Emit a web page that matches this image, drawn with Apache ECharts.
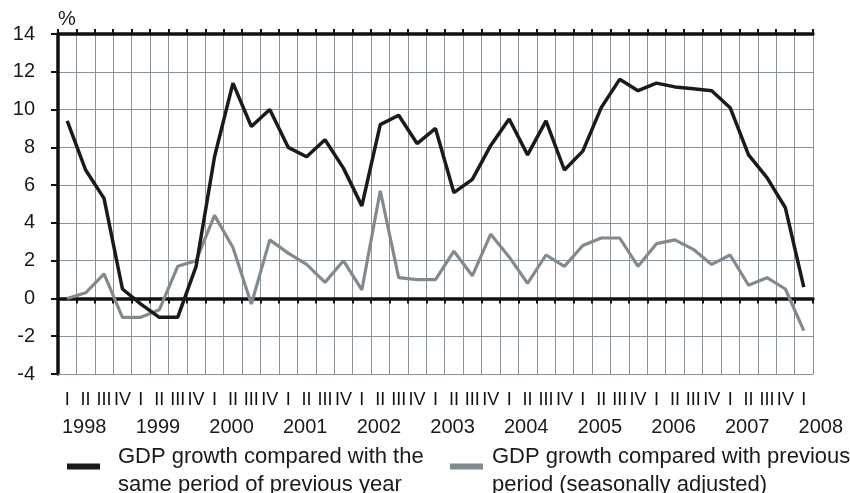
<!DOCTYPE html>
<html>
<head>
<meta charset="utf-8">
<script src="https://cdn.jsdelivr.net/npm/echarts@6/dist/echarts.min.js"></script>
<style>
  html, body { margin: 0; padding: 0; background: #fff; }
  #chart { width: 850px; height: 493px; }
</style>
</head>
<body>
<div id="chart"></div>
<script>
const years = ['1998', '1999', '2000', '2001', '2002', '2003', '2004', '2005', '2006', '2007', '2008'];
const quarters = ['I', 'II', 'III', 'IV'];

// GDP growth compared with the same period of previous year, %
const yoyGrowth = [
  9.4, 6.8, 5.3, 0.5,
  -0.3, -1.0, -1.0, 1.7,
  7.5, 11.4, 9.1, 10.0,
  8.0, 7.5, 8.4, 6.9,
  4.9, 9.2, 9.7, 8.2,
  9.0, 5.6, 6.3, 8.1,
  9.5, 7.6, 9.4, 6.8,
  7.8, 10.1, 11.6, 11.0,
  11.4, 11.2, 11.1, 11.0,
  10.1, 7.6, 6.4, 4.8,
  0.6
];

// GDP growth compared with previous period (seasonally adjusted), %
const qoqGrowth = [
  0.0, 0.3, 1.3, -1.0,
  -1.0, -0.6, 1.7, 2.0,
  4.4, 2.7, -0.3, 3.1,
  2.4, 1.8, 0.85, 2.0,
  0.45, 5.7, 1.1, 1.0,
  1.0, 2.5, 1.2, 3.4,
  2.2, 0.8, 2.3, 1.7,
  2.8, 3.2, 3.2, 1.7,
  2.9, 3.1, 2.6, 1.8,
  2.3, 0.7, 1.1, 0.5,
  -1.7
];

const yoyName = 'GDP growth compared with the\nsame period of previous year';
const qoqName = 'GDP growth compared with previous\nperiod (seasonally adjusted)';

// one category per quarter, 1998 I ... 2008 I
const periods = [];
years.forEach(function (y) {
  quarters.forEach(function (q) {
    if (periods.length < yoyGrowth.length) periods.push(q);
  });
});

const chart = echarts.init(document.getElementById('chart'));
const font = 'Liberation Sans, Arial, sans-serif';
const gridColor = '#8a939b';
// legend swatch: a bar sitting in the upper part of its box
const swatch = 'path://M0,0H33V6H0Z M0,14H33V14H0Z';

const zeroAxis = {
  type: 'category',
  data: periods,
  boundaryGap: true,
  axisLine: { onZero: true, lineStyle: { color: '#111', width: 3.5 } },
  axisTick: { show: true, interval: 0, length: 5, lineStyle: { color: '#111', width: 2 } },
  axisLabel: { show: false },
  splitLine: { show: false }
};

chart.setOption({
  animation: false,
  textStyle: { fontFamily: font },
  grid: { left: 58, right: 37, top: 34, bottom: 119, outerBoundsMode: 'none' },
  legend: [
    {
      data: [yoyName],
      left: 62, top: 432,
      icon: swatch, itemWidth: 33, itemHeight: 14,
      textStyle: { fontSize: 22, lineHeight: 28, color: '#1a1a1a', padding: [11, 0, 0, 13] }
    },
    {
      data: [qoqName],
      left: 445, top: 432,
      icon: swatch, itemWidth: 33, itemHeight: 14,
      textStyle: { fontSize: 22, lineHeight: 28, color: '#1a1a1a', padding: [11, 0, 0, 4] }
    }
  ],
  xAxis: [
    {
      type: 'category',
      data: periods,
      boundaryGap: true,
      position: 'bottom',
      axisLine: { onZero: false, lineStyle: { color: gridColor, width: 1 } },
      axisTick: { show: false },
      axisLabel: { interval: 0, margin: 17, fontSize: 18, color: '#111' },
      splitLine: { show: true, interval: 0, lineStyle: { color: gridColor, width: 1 } }
    },
    Object.assign({}, zeroAxis, { position: 'bottom' }),
    Object.assign({}, zeroAxis, { position: 'top' }),
    {
      type: 'value',
      position: 'bottom',
      min: 0, max: periods.length, interval: 4,
      axisLine: { show: false, onZero: false },
      axisTick: { show: false },
      splitLine: { show: false },
      axisLabel: {
        margin: 43, fontSize: 20, color: '#1a1a1a', align: 'left', padding: [0, 0, 0, 4],
        showMaxLabel: false,
        formatter: function (v) { return (v % 4 === 0 && years[v / 4]) || ''; }
      }
    }
  ],
  yAxis: {
    type: 'value',
    min: -4, max: 14, interval: 2,
    offset: 9,
    name: '%',
    nameGap: 5,
    nameTextStyle: { fontSize: 20, color: '#1a1a1a', padding: [0, 0, 0, 18] },
    axisLine: { show: true, lineStyle: { color: '#111', width: 3.5 } },
    axisTick: { show: true, length: 7, lineStyle: { color: '#111', width: 2 } },
    axisLabel: { fontSize: 20, color: '#1a1a1a', margin: 14 },
    splitLine: { show: true, lineStyle: { color: gridColor, width: 1 } }
  },
  series: [
    {
      name: yoyName,
      type: 'line',
      data: yoyGrowth,
      symbol: 'none',
      color: '#1a1a1a',
      lineStyle: { width: 3.5, color: '#1a1a1a' },
      z: 4
    },
    {
      name: qoqName,
      type: 'line',
      data: qoqGrowth,
      symbol: 'none',
      color: '#838a8e',
      lineStyle: { width: 3.2, color: '#838a8e' },
      z: 3
    }
  ]
});
</script>
</body>
</html>
